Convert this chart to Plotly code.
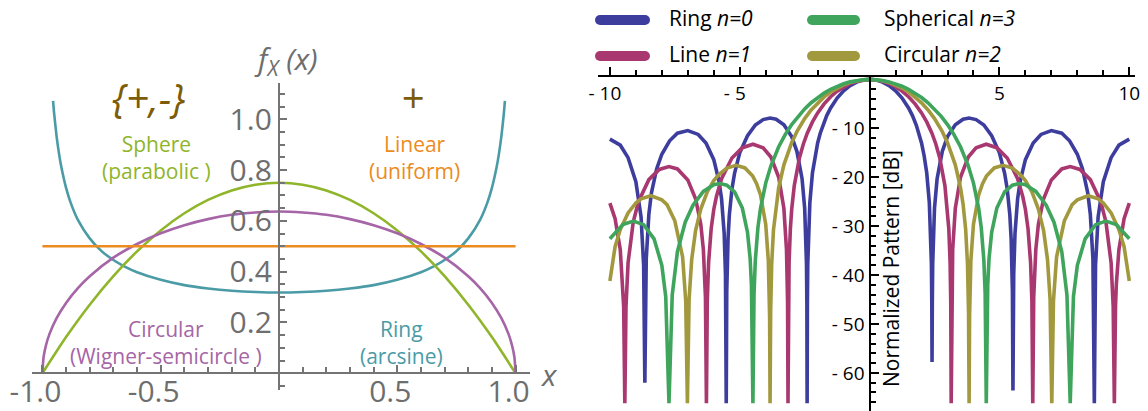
import plotly.graph_objects as go

W, H = 1148, 411

# ---------------- Left panel data (x >= 0 half, symmetric) ----------------
ARC_X = [0, 0.1, 0.2, 0.3, 0.4, 0.5, 0.6, 0.65, 0.7, 0.75, 0.8, 0.85, 0.88, 0.9, 0.92, 0.93, 0.94, 0.95, 0.955]
ARC_Y = [0.318, 0.320, 0.325, 0.334, 0.347, 0.368, 0.398, 0.419, 0.446, 0.481, 0.531, 0.604, 0.670, 0.730,
         0.812, 0.866, 0.933, 1.019, 1.073]
SEMI_X = [0, 0.1, 0.2, 0.3, 0.4, 0.5, 0.6, 0.7, 0.8, 0.85, 0.9, 0.94, 0.97, 0.985, 0.995, 1.0]
SEMI_Y = [0.637, 0.633, 0.624, 0.607, 0.583, 0.551, 0.509, 0.455, 0.382, 0.335, 0.277, 0.217, 0.155, 0.110,
          0.064, 0.0]
PARA_X = [0, 0.1, 0.2, 0.3, 0.4, 0.5, 0.6, 0.7, 0.8, 0.9, 1.0]
PARA_Y = [0.75, 0.7425, 0.72, 0.6825, 0.63, 0.5625, 0.48, 0.3825, 0.27, 0.1425, 0.0]
UNI_X = [-1.0, 1.0]
UNI_Y = [0.5, 0.5]

LEFT_YTICKS = [0.2, 0.4, 0.6, 0.8, 1.0]
LEFT_YTICKTEXT = ["0.2", "0.4", "0.6", "0.8", "1.0"]
LEFT_XTICKS = [-1.0, -0.5, 0.5, 1.0]
LEFT_XTICKTEXT = ["-1.0", "-0.5", "0.5", "1.0"]

# ---------------- Right panel data (u >= 0 half, symmetric lobes) ----------------
FLOOR = -66.2
RING_U = [0, 0.25, 0.5, 0.75, 1.0, 1.25, 1.5, 1.65, 1.8, 1.9, 2.0, 2.1, 2.2, 2.3, 2.35, 2.38, 2.395,
          2.415, 2.43, 2.455, 2.5, 2.6, 2.8, 3.0, 3.3, 3.6, 3.83, 4.1, 4.4, 4.7, 5.0, 5.2, 5.3, 5.4, 5.45, 5.5,
          5.55, 5.6, 5.7, 5.8, 6.0, 6.3, 6.6, 7.0, 7.4, 7.7, 8.0, 8.2, 8.4, 8.5, 8.6,
          8.7, 8.8, 9.0, 9.3, 9.6, 10.0]
RING_DB = [0, -0.14, -0.55, -1.27, -2.32, -3.80, -5.82, -7.39, -9.37, -11.0, -13.0, -15.6, -19.1, -25.2, -30.9, -37.7, -45.7,
           -45.7, -37.7, -31.7, -26.3, -20.3, -14.7, -11.7, -9.26, -8.14, -7.90, -8.21, -9.31, -11.5, -15.0, -19.2, -22.4, -27.7, -32.5, -43.3,
           -39.8, -31.4, -24.4, -20.8, -16.4, -13.0, -11.25, -10.45, -11.0, -12.55, -15.3, -18.3, -23.2, -27.6, -36.7,
           -38.1, -28.1, -20.9, -16.0, -13.45, -12.2]
RING_NULLS = [2.405, 5.52, 8.654]
RING_NULL_DB_RIGHT = [-57.8, -63.6, FLOOR]
RING_NULL_DB_LEFT = [FLOOR, FLOOR, -62.0]

LINE_U = [0, 0.25, 0.5, 0.75, 1.0, 1.25, 1.5, 1.75, 2.0, 2.2, 2.4, 2.55, 2.7, 2.9, 3.0, 3.05, 3.1, 3.125,
          3.158, 3.2, 3.3, 3.5, 3.8, 4.1, 4.49, 4.9, 5.3, 5.7, 5.9, 6.0, 6.1, 6.2, 6.25,
          6.32, 6.4, 6.5, 6.7, 7.0, 7.4, 7.725, 8.1, 8.5, 8.9, 9.1, 9.3, 9.38,
          9.47, 9.5, 9.6, 9.8, 10.0]
LINE_DB = [0, -0.09, -0.36, -0.83, -1.50, -2.39, -3.54, -5.00, -6.85, -8.69, -11.0, -13.2, -16.0, -21.7, -26.6, -30.5, -37.4, -45.5,
           -45.7, -34.8, -26.4, -20.0, -15.86, -14.0, -13.26, -13.96, -16.08, -20.3, -24.0, -26.6, -30.5, -37.5, -45.4,
           -44.6, -34.8, -29.6, -24.4, -20.55, -18.3, -17.83, -18.4, -20.5, -25.0, -29.1, -37.5, -46.4,
           -46.4, -42.0, -34.8, -28.5, -25.3]
LINE_NULLS = [3.1416, 6.283, 9.425]
LINE_NULL_DB_RIGHT = [FLOOR, FLOOR, FLOOR]
LINE_NULL_DB_LEFT = [FLOOR, FLOOR, FLOOR]

CIRC_U = [0, 0.25, 0.5, 0.75, 1.0, 1.25, 1.5, 1.75, 2.0, 2.25, 2.5, 2.8, 3.0, 3.3, 3.5, 3.6, 3.7, 3.77, 3.81,
          3.85, 3.9, 4.0, 4.2, 4.35, 4.5, 4.8, 5.136, 5.5, 5.8, 6.0, 6.25, 6.5, 6.7, 6.85, 6.95,
          7.08, 7.2, 7.5, 7.8, 8.0, 8.42, 8.8, 9.0, 9.3, 9.6, 9.8, 10.0]
CIRC_DB = [0, -0.07, -0.27, -0.62, -1.11, -1.76, -2.57, -3.57, -4.78, -6.25, -8.01, -10.67, -12.92, -17.47, -22.1, -25.5, -30.7, -37.8, -47.5,
           -48.5, -37.0, -29.6, -23.6, -21.3, -19.77, -18.1, -17.57, -18.12, -19.46, -20.7, -22.97, -26.5, -30.9, -36.8, -44.9,
           -45.3, -36.3, -28.9, -25.6, -24.63, -23.78, -24.4, -25.27, -27.3, -30.7, -34.2, -41.2]
CIRC_NULLS = [3.832, 7.016]
CIRC_NULL_DB_RIGHT = [FLOOR, FLOOR]
CIRC_NULL_DB_LEFT = [FLOOR, FLOOR]

SPH_U = [0, 0.25, 0.5, 0.75, 1.0, 1.25, 1.5, 1.75, 2.0, 2.25, 2.5, 2.75, 3.0, 3.25, 3.5, 3.8, 4.0, 4.2, 4.3, 4.4, 4.45,
         4.55, 4.6, 4.7, 4.9, 5.2, 5.5, 5.76, 6.0, 6.4, 6.8, 7.1, 7.4, 7.6,
         7.85, 8.0, 8.3, 8.7, 9.1, 9.5, 10.0]
SPH_DB = [0, -0.05, -0.22, -0.50, -0.88, -1.39, -2.02, -2.79, -3.70, -4.77, -6.03, -7.50, -9.23, -11.28, -13.77, -17.66, -21.2, -26.36, -30.3, -37.0, -43.8,
          -42.0, -36.6, -31.3, -26.3, -23.0, -21.62, -21.29, -21.53, -22.9, -25.73, -29.2, -35.2, -44.1,
          -44.4, -38.0, -32.6, -29.7, -28.97, -29.66, -32.56]
SPH_NULLS = [4.493, 7.725]
SPH_NULL_DB_RIGHT = [FLOOR, FLOOR]
SPH_NULL_DB_LEFT = [FLOOR, FLOOR]

RIGHT_XTICKS = [-10, -5, 5, 10]
RIGHT_XTICKTEXT = ["-\u00a010\u00a0\u00a0", "-\u00a05\u00a0\u00a0", "5", "10"]
RIGHT_YTICKS = [-10, -20, -30, -40, -50, -60]
RIGHT_YTICKTEXT = ["-\u00a010", "-\u00a020", "-\u00a030", "-\u00a040", "-\u00a050", "-\u00a060"]

# colours
C_TEAL = "#4b9ba6"
C_GREEN = "#8fb52a"
C_PURPLE = "#a565a6"
C_ORANGE = "#ec8b20"
C_BROWN = "#7d5c08"
C_GRAY = "#6e6e6e"

C_RING = "#3d3d9e"
C_LINE = "#a8386f"
C_SPH = "#3fa55c"
C_CIRC = "#a2993f"


def mirror(xs, ys):
    xs2 = [-v for v in reversed(xs[1:])] + list(xs)
    ys2 = list(reversed(ys[1:])) + list(ys)
    return xs2, ys2


def pattern(us, dbs, nulls, null_right, null_left):
    right = sorted(list(zip(us, dbs)) + list(zip(nulls, null_right)))
    left = sorted(list(zip(us[1:], dbs[1:])) + list(zip(nulls, null_left)))
    pts = [(-u, d) for u, d in reversed(left)] + right
    return [p[0] for p in pts], [p[1] for p in pts]


fig = go.Figure()

# Left panel curves
for xs, ys, col in [(ARC_X, ARC_Y, C_TEAL), (PARA_X, PARA_Y, C_GREEN), (SEMI_X, SEMI_Y, C_PURPLE)]:
    mx, my = mirror(xs, ys)
    fig.add_trace(go.Scatter(x=mx, y=my, mode="lines", line=dict(color=col, width=2.6, shape="spline", smoothing=0.6),
                             xaxis="x", yaxis="y", showlegend=False, hoverinfo="skip"))
fig.add_trace(go.Scatter(x=UNI_X, y=UNI_Y, mode="lines", line=dict(color=C_ORANGE, width=2.6),
                         xaxis="x", yaxis="y", showlegend=False, hoverinfo="skip"))

# Right panel curves
for us, dbs, nl, nr, nlft, col in [
    (RING_U, RING_DB, RING_NULLS, RING_NULL_DB_RIGHT, RING_NULL_DB_LEFT, C_RING),
    (LINE_U, LINE_DB, LINE_NULLS, LINE_NULL_DB_RIGHT, LINE_NULL_DB_LEFT, C_LINE),
    (CIRC_U, CIRC_DB, CIRC_NULLS, CIRC_NULL_DB_RIGHT, CIRC_NULL_DB_LEFT, C_CIRC),
    (SPH_U, SPH_DB, SPH_NULLS, SPH_NULL_DB_RIGHT, SPH_NULL_DB_LEFT, C_SPH),
]:
    px_, py_ = pattern(us, dbs, nl, nr, nlft)
    fig.add_trace(go.Scatter(x=px_, y=py_, mode="lines", line=dict(color=col, width=3.6),
                             xaxis="x2", yaxis="y2", showlegend=False, hoverinfo="skip"))


def fx(p):
    return p / W


def fy(p):
    return 1 - p / H


LF = "Open Sans"
left_font = dict(family=LF, size=30, color=C_GRAY)
right_font = dict(family=LF, size=19, color="black")
AX_GRAY = "#747474"

fig.update_layout(
    width=W, height=H, margin=dict(l=0, r=0, t=0, b=0, autoexpand=False),
    paper_bgcolor="white", plot_bgcolor="rgba(0,0,0,0)",
    showlegend=False,
    xaxis=dict(domain=[fx(32), fx(530)], range=[-1.044, 1.061], anchor="free", position=fy(373.3), side="bottom",
               automargin=False,
               showline=True, linecolor=AX_GRAY, linewidth=2.4, showgrid=False, zeroline=False,
               tickmode="array", tickvals=LEFT_XTICKS, ticktext=LEFT_XTICKTEXT, ticks="inside", ticklen=7,
               tickwidth=2, tickcolor=AX_GRAY, tickfont=left_font, ticklabelshift=-7, ticklabelstandoff=-9,
               minor=dict(tickmode="array", tickvals=[v / 10 for v in range(-10, 11) if v % 5 != 0],
                          ticks="inside", ticklen=5, tickwidth=2, tickcolor=AX_GRAY, showgrid=False)),
    yaxis=dict(domain=[fy(390), fy(83)], range=[-0.066, 1.143], anchor="free", position=fx(279), side="left",
               automargin=False,
               showline=True, linecolor=AX_GRAY, linewidth=2.4, showgrid=False, zeroline=False,
               tickmode="array", tickvals=LEFT_YTICKS, ticktext=LEFT_YTICKTEXT,
               ticks="inside", ticklen=7, tickwidth=2, tickcolor=AX_GRAY, tickfont=left_font,
               minor=dict(tickmode="array", tickvals=[-0.05, 0.05, 0.1, 0.15, 0.25, 0.3, 0.35, 0.45, 0.5, 0.55,
                                                      0.65, 0.7, 0.75, 0.85, 0.9, 0.95, 1.05, 1.1],
                          ticks="inside", ticklen=5, tickwidth=2, tickcolor=AX_GRAY, showgrid=False)),
    xaxis2=dict(domain=[fx(598), fx(1135)], range=[-10.458, 10.22], anchor="free", position=fy(76), side="bottom",
                automargin=False,
                showline=True, linecolor="black", linewidth=2.4, showgrid=False, zeroline=False,
                tickmode="array", tickvals=RIGHT_XTICKS, ticktext=RIGHT_XTICKTEXT, ticks="inside", ticklen=8,
                tickwidth=2, tickcolor="black", tickfont=right_font,
                minor=dict(tickmode="array", tickvals=[v for v in range(-10, 11) if v % 5 != 0],
                           ticks="inside", ticklen=5, tickwidth=2, tickcolor="black", showgrid=False)),
    yaxis2=dict(domain=[0, fy(76)], range=[-67.8, 0.7], anchor="free", position=fx(869.6), side="left",
                automargin=False,
                showline=True, linecolor="black", linewidth=2.4, showgrid=False, zeroline=False,
                tickmode="array", tickvals=RIGHT_YTICKS, ticktext=RIGHT_YTICKTEXT, ticks="inside", ticklen=8,
                tickwidth=2, tickcolor="black", tickfont=right_font,
                minor=dict(tickmode="array", tickvals=[v for v in range(-66, 0, 2) if v % 10 != 0],
                           ticks="inside", ticklen=5, tickwidth=2, tickcolor="black", showgrid=False)),
)

ann = []


def add_text(x, y, text, size, color, italic=False, xanchor="center", angle=0):
    ann.append(dict(x=fx(x), y=fy(y), xref="paper", yref="paper", text=text, showarrow=False,
                    xanchor=xanchor, yanchor="middle", textangle=angle,
                    font=dict(family=LF, size=size, color=color, style="italic" if italic else "normal")))


# Left panel labels
add_text(286, 60, "<i>f</i><sub><i>X</i></sub><i> (x)</i>", 30, C_GRAY)
add_text(549, 374, "<i>x</i>", 30, C_GRAY)
add_text(148, 97, "{+,-}", 40, C_BROWN, italic=True)
add_text(412, 97, "+", 40, C_BROWN, italic=True)
add_text(157, 157, "Sphere<br>(parabolic )", 21, C_GREEN)
add_text(414, 157, "Linear<br>(uniform)", 21, C_ORANGE)
add_text(166, 342, "Circular<br>(Wigner-semicircle )", 21, C_PURPLE)
add_text(401, 342, "Ring<br>(arcsine)", 21, C_TEAL)

# Right panel y title
add_text(891, 269, "Normalized Pattern [dB]", 21, "black", angle=-90)

# Legend (two columns)
LEGEND = [("Ring <i>n=0</i>", C_RING, 600, 645, 20, 667),
          ("Line <i>n=1</i>", C_LINE, 600, 645, 56, 667),
          ("Spherical <i>n=3</i>", C_SPH, 812, 855, 20, 882),
          ("Circular <i>n=2</i>", C_CIRC, 812, 855, 56, 882)]
shapes = []
for text, col, x0, x1, yy, tx in LEGEND:
    shapes.append(dict(type="line", xref="paper", yref="paper", x0=fx(x0), x1=fx(x1), y0=fy(yy), y1=fy(yy),
                       line=dict(color=col, width=10)))
    for xc in (x0, x1):
        shapes.append(dict(type="circle", xref="paper", yref="paper", xsizemode="pixel", ysizemode="pixel",
                           xanchor=fx(xc), yanchor=fy(yy), x0=-5, x1=5, y0=-5, y1=5,
                           fillcolor=col, line=dict(width=0)))
    add_text(tx, yy - 2, text, 21, "black", xanchor="left")

fig.update_layout(annotations=ann, shapes=shapes)
fig.write_html("out.html")
